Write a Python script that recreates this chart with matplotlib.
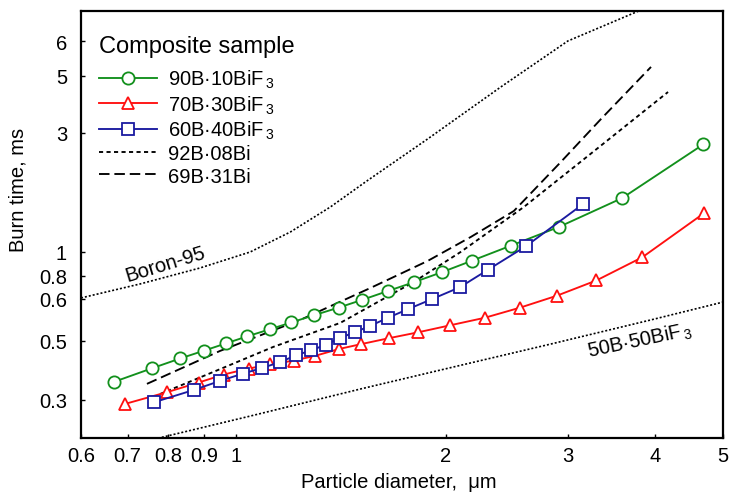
import numpy as np
import matplotlib
matplotlib.use("Agg")
import matplotlib.pyplot as plt
from matplotlib.ticker import FixedLocator, FixedFormatter, NullLocator

plt.rcParams['font.family'] = ['Liberation Sans', 'DejaVu Sans']
plt.rcParams['mathtext.fontset'] = 'custom'
plt.rcParams['mathtext.rm'] = 'Liberation Sans'
plt.rcParams['mathtext.it'] = 'Liberation Sans:italic'
plt.rcParams['mathtext.bf'] = 'Liberation Sans:bold'

# ---------------- data ----------------
x_90B = [0.669, 0.759, 0.833, 0.901, 0.969, 1.038, 1.119, 1.202, 1.294, 1.405,
         1.520, 1.653, 1.801, 1.974, 2.186, 2.481, 2.913, 3.585, 4.687]
y_90B = [0.351, 0.395, 0.430, 0.460, 0.490, 0.510, 0.526, 0.542, 0.559, 0.578,
         0.598, 0.663, 0.740, 0.828, 0.924, 1.060, 1.263, 1.646, 2.703]

x_70B = [0.694, 0.797, 0.885, 0.961, 1.044, 1.121, 1.211, 1.301, 1.409, 1.515,
         1.657, 1.824, 2.027, 2.276, 2.559, 2.888, 3.292, 3.830, 4.693]
y_70B = [0.290, 0.321, 0.349, 0.374, 0.394, 0.408, 0.422, 0.440, 0.467, 0.487,
         0.506, 0.519, 0.535, 0.553, 0.578, 0.625, 0.757, 0.952, 1.429]

x_60B = [0.763, 0.870, 0.950, 1.024, 1.092, 1.159, 1.221, 1.283, 1.346, 1.413,
         1.485, 1.560, 1.653, 1.766, 1.914, 2.097, 2.301, 2.607, 3.150]
y_60B = [0.294, 0.327, 0.354, 0.377, 0.396, 0.417, 0.442, 0.461, 0.484, 0.507,
         0.520, 0.534, 0.553, 0.574, 0.600, 0.695, 0.848, 1.054, 1.557]

x_92B = [0.779, 0.950, 1.132, 1.413, 1.800, 2.102, 2.590, 3.201, 4.170]
y_92B = [0.316, 0.392, 0.475, 0.541, 0.742, 1.000, 1.515, 2.427, 4.332]

x_69B = [0.746, 0.950, 1.238, 1.561, 1.885, 2.174, 2.506, 2.927, 3.342, 3.942]
y_69B = [0.345, 0.459, 0.548, 0.689, 0.920, 1.149, 1.460, 2.296, 3.401, 5.242]

x_boron = [0.600, 0.729, 0.889, 1.049, 1.198, 1.367, 1.535, 1.885, 2.400, 2.995, 3.815, 4.651]
y_boron = [0.608, 0.724, 0.862, 1.000, 1.203, 1.515, 1.909, 2.839, 4.531, 6.000, 7.58, 9.22]

x_50B = [0.754, 1.049, 1.510, 1.968, 2.831, 3.942, 5.0]
y_50B = [0.212, 0.261, 0.330, 0.389, 0.487, 0.548, 0.592]

x_ticks = [0.6, 0.7, 0.8, 0.9, 1, 2, 3, 4, 5]
x_tick_labels = ["0.6", "0.7", "0.8", "0.9", "1", "2", "3", "4", "5"]
y_ticks = [0.3, 0.5, 0.6, 0.8, 1, 3, 5, 6]
y_tick_labels = ["0.3", "0.5", "0.6", "0.8", "1", "3", "5", "6"]

labels = ["90B·10BiF$_{\\,3}$", "70B·30BiF$_{\\,3}$", "60B·40BiF$_{\\,3}$",
          "92B·08Bi", "69B·31Bi"]

# ------------- non-uniform (label-anchored) log axis for y -------------
SCALE_VALS = np.array([0.1, 0.3, 0.5, 0.6, 0.8, 1.0, 3.0, 5.0, 6.0, 20.0])
SCALE_POS = np.array([527.9, 401, 342, 300, 277, 253, 134, 77, 42, -117.8])
SCALE_LOG = np.log10(SCALE_VALS)
SCALE_U = -SCALE_POS


def _fwd(y):
    y = np.asarray(y, dtype=float)
    l = np.log10(np.where(y > 0, y, 1e-9))
    return np.interp(l, SCALE_LOG, SCALE_U)


def _inv(u):
    u = np.asarray(u, dtype=float)
    return 10 ** np.interp(u, SCALE_U, SCALE_LOG)


# ---------------- figure ----------------
fig = plt.figure(figsize=(7.35, 5.02), dpi=100)
ax = fig.add_axes([81 / 735, 1 - 439 / 502, 642 / 735, 427 / 502])
ax.set_xscale('log')
ax.set_yscale('function', functions=(_fwd, _inv))

green = '#12901c'
red = '#ff1010'
blue = '#1a1aa0'

lw = 1.35
ax.plot(x_boron, y_boron, color='black', lw=1.2, dashes=(1.2, 1.2), zorder=1)
ax.plot(x_50B, y_50B, color='black', lw=1.2, dashes=(1.2, 1.2), zorder=1)
l92, = ax.plot(x_92B, y_92B, color='black', lw=lw, dashes=(2.2, 1.8), zorder=2)
l69, = ax.plot(x_69B, y_69B, color='black', lw=lw, dashes=(5.6, 2.6), zorder=2)

mk = dict(mfc='white', mew=1.3, lw=lw, zorder=3)
lg, = ax.plot(x_90B, y_90B, color=green, marker='o', ms=8.8, **mk)
lr, = ax.plot(x_70B, y_70B, color=red, marker='^', ms=9.2, **mk)
lb, = ax.plot(x_60B, y_60B, color=blue, marker='s', ms=8.4, **mk)

ax.set_xlim(0.6, 5.0)
ax.set_ylim(_inv(-439.0), _inv(-12.0))

ax.xaxis.set_major_locator(FixedLocator(x_ticks))
ax.xaxis.set_major_formatter(FixedFormatter(x_tick_labels))
ax.xaxis.set_minor_locator(NullLocator())
ax.yaxis.set_major_locator(FixedLocator(y_ticks))
ax.yaxis.set_major_formatter(FixedFormatter(y_tick_labels))
ax.yaxis.set_minor_locator(NullLocator())

ax.tick_params(axis='both', which='major', direction='in', length=3, width=1.0,
               labelsize=14.5, top=False, right=False)
ax.tick_params(axis='x', pad=6)
ax.tick_params(axis='y', pad=10)
for sp in ax.spines.values():
    sp.set_linewidth(1.6)

ax.set_xlabel("Particle diameter,  μm", fontsize=14.5)
ax.set_ylabel("Burn time, ms", fontsize=14.5)
ax.xaxis.set_label_coords(0.495, -0.103)
ax.xaxis.label.set_va('center')
ax.yaxis.set_label_coords(-0.098, 0.583)
ax.yaxis.label.set_va('center')

ax.text(0.132, 0.4075, "Boron-95", transform=ax.transAxes, fontsize=14.5,
        rotation=17, ha='center', va='center', rotation_mode='anchor')
ax.text(0.871, 0.230, "50B·50BiF$_{\\,3}$", transform=ax.transAxes, fontsize=14.5,
        rotation=12, ha='center', va='center', rotation_mode='anchor')

leg = ax.legend([lg, lr, lb, l92, l69], labels, title="Composite sample",
                loc='upper left', bbox_to_anchor=(0.028, 0.943), frameon=False,
                fontsize=14.5, title_fontsize=17, numpoints=1,
                handlelength=2.9, handletextpad=0.55, labelspacing=0.16,
                borderpad=0, borderaxespad=0, alignment='left')
leg._legend_box.sep = 7.5

fig.savefig("out.png", dpi=100)
